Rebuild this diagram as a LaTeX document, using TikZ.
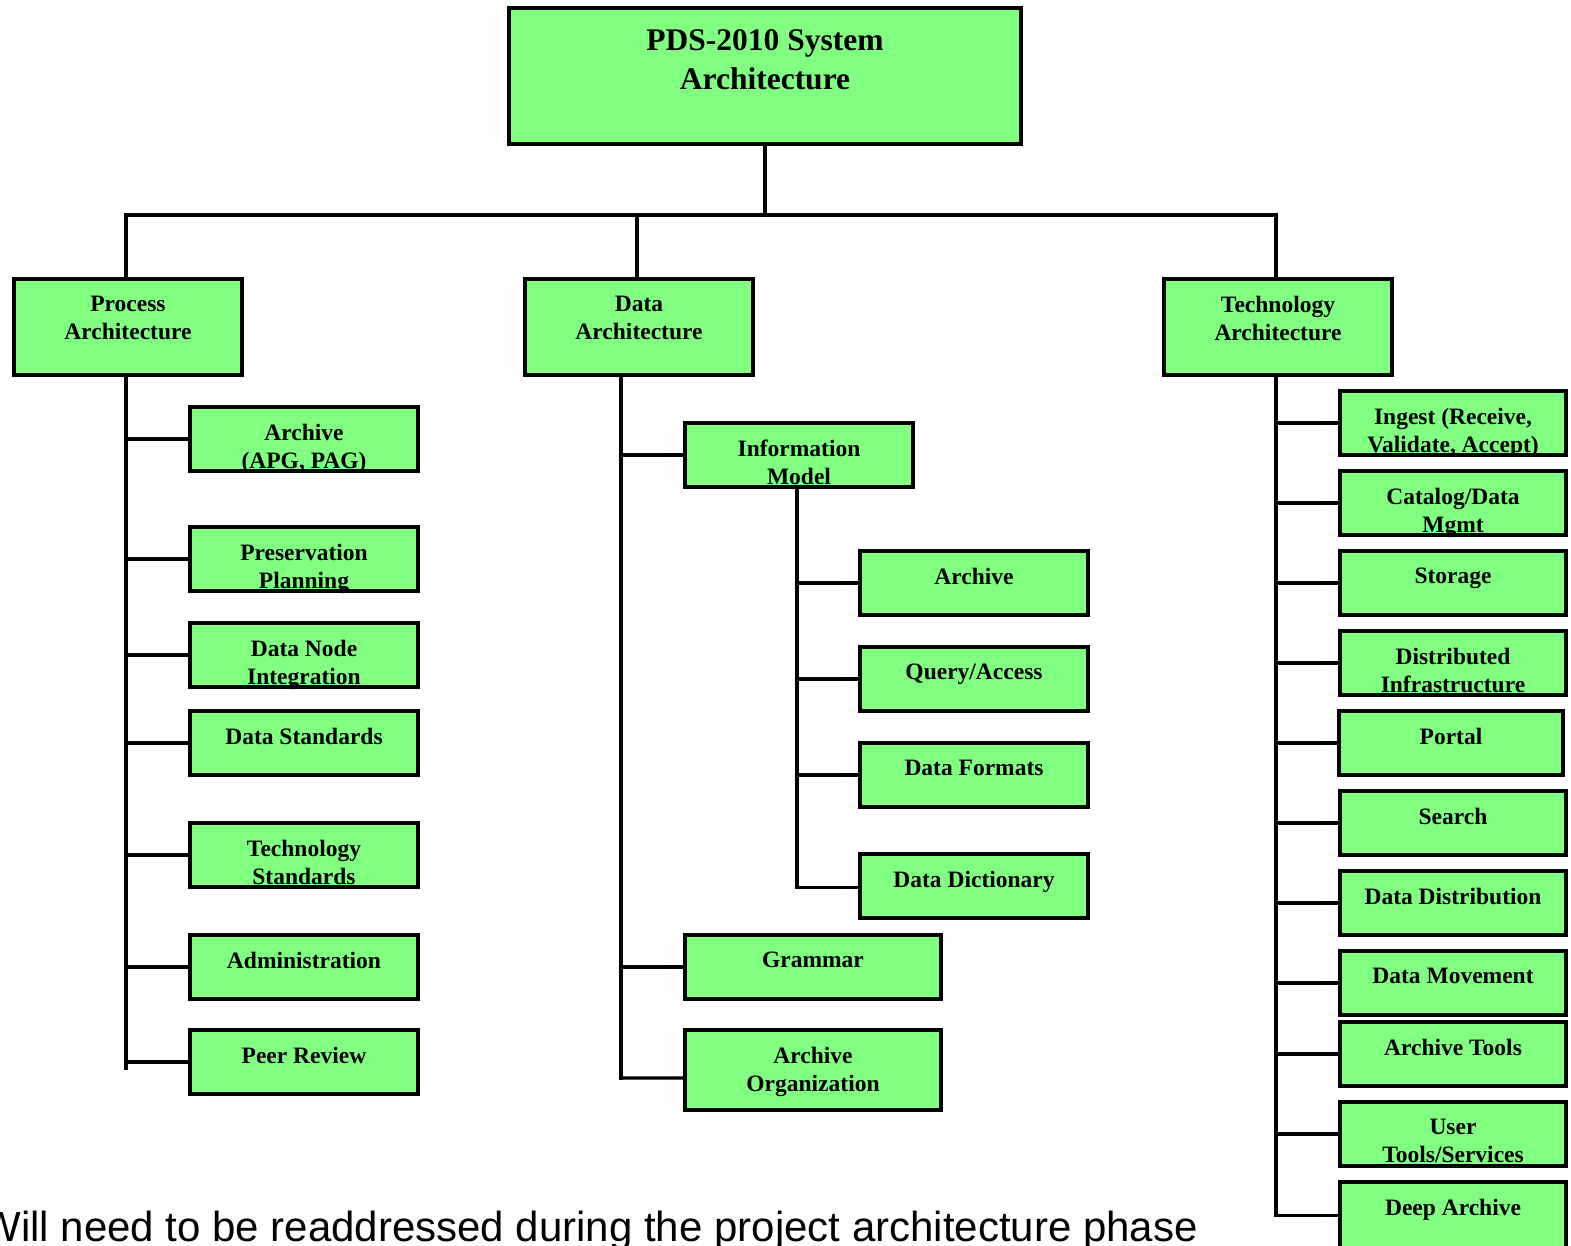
\documentclass[tikz,border=0pt]{standalone}
\usepackage{fontspec}
\setmainfont{Liberation Serif}
\newfontfamily\notesans{Liberation Sans}
\definecolor{boxgreen}{HTML}{80FF80}
\tikzset{
  x=1pt, y=-1pt,
  fillbox/.style={fill=boxgreen, inner sep=0pt, outer sep=0pt},
  ln/.style={line width=3.3pt, line cap=rect},
  conn/.style={line width=3.3pt},
  txtbig/.style={font=\fontsize{31.5}{39}\selectfont\bfseries, align=center, inner sep=0pt},
  txt/.style={font=\fontsize{23.5}{28}\selectfont\bfseries, align=center, inner sep=0pt},
}
% #1 name, #2 cx, #3 top, #4 width, #5 height, #6 text offset, #7 style, #8 text
\newcommand\mkbox[8]{%
  \node[fillbox, minimum width=#4pt, minimum height=#5pt, anchor=north] (#1) at (#2,#3) {};
  \node[#7, anchor=north] (#1-t) at ([yshift=-#6pt]#1.north) {#8};
  \draw[ln] (#1.south west) rectangle (#1.north east);
}
\begin{document}
\begin{tikzpicture}
\useasboundingbox (0,0) rectangle (1571,1246);
% top
\mkbox{top}{765}{8}{512}{136}{21}{txtbig}{PDS-2010 System\\Architecture}
% level 2
\mkbox{proc}{128}{279}{228}{96}{17}{txt}{Process\\Architecture}
\mkbox{data}{639}{279}{228}{96}{17}{txt}{Data\\Architecture}
\mkbox{tech}{1278}{279}{228}{96}{17}{txt}{Technology\\Architecture}
% process children
\mkbox{p1}{304}{407}{228}{64}{17}{txt}{Archive\\(APG, PAG)}
\mkbox{p2}{304}{527}{228}{64}{17}{txt}{Preservation\\Planning}
\mkbox{p3}{304}{623}{228}{64}{17}{txt}{Data Node\\Integration}
\mkbox{p4}{304}{711}{228}{64}{17}{txt}{Data Standards}
\mkbox{p5}{304}{823}{228}{64}{17}{txt}{Technology\\Standards}
\mkbox{p6}{304}{935}{228}{64}{17}{txt}{Administration}
\mkbox{p7}{304}{1030}{228}{64}{17}{txt}{Peer Review}
% data children
\mkbox{d1}{799}{423}{228}{64}{17}{txt}{Information\\Model}
\mkbox{d11}{974}{551}{228}{64}{17}{txt}{Archive}
\mkbox{d12}{974}{647}{228}{64}{17}{txt}{Query/Access}
\mkbox{d13}{974}{743}{228}{64}{17}{txt}{Data Formats}
\mkbox{d14}{974}{854}{228}{64}{17}{txt}{Data Dictionary}
\mkbox{d2}{813}{935}{256}{64}{17}{txt}{Grammar}
\mkbox{d3}{813}{1030}{256}{80}{17}{txt}{Archive\\Organization}
% technology children
\mkbox{t1}{1453}{391}{226}{64}{17}{txt}{Ingest (Receive,\\Validate, Accept)}
\mkbox{t2}{1453}{471}{226}{64}{17}{txt}{Catalog/Data\\Mgmt}
\mkbox{t3}{1453}{551}{226}{64}{17}{txt}{Storage}
\mkbox{t4}{1453}{631}{226}{64}{17}{txt}{Distributed\\Infrastructure}
\mkbox{t5}{1451}{711}{224}{64}{17}{txt}{Portal}
\mkbox{t6}{1453}{791}{226}{64}{17}{txt}{Search}
\mkbox{t7}{1453}{871}{226}{64}{17}{txt}{Data Distribution}
\mkbox{t8}{1453}{951}{226}{64}{17}{txt}{Data Movement}
\mkbox{t9}{1453}{1022}{226}{64}{17}{txt}{Archive Tools}
\mkbox{t10}{1453}{1102}{226}{64}{17}{txt}{User\\Tools/Services}
\mkbox{t11}{1453}{1182}{226}{80}{17}{txt}{Deep Archive}
% bus
\coordinate (busL) at (126,215);
\coordinate (busM) at (637,215);
\coordinate (busR) at (1276,215);
\draw[conn] (top.south) -- (top.south |- busL);
\draw[conn] ([xshift=-1.6pt]busL) -- ([xshift=1.6pt]busR);
\draw[conn] ([yshift=1.6pt]busL) -- (proc.north -| busL);
\draw[conn] ([yshift=1.6pt]busM) -- (data.north -| busM);
\draw[conn] ([yshift=1.6pt]busR) -- (tech.north -| busR);
% process spine
\coordinate (ps) at (126,1070);
\draw[conn] (proc.south -| ps) -- (ps);
\foreach \n in {p1,p2,p3,p4,p5,p6,p7} \draw[conn] (ps |- \n.west) -- (\n.west);
% data spine
\coordinate (ds) at (621,1079.5);
\draw[conn] (data.south -| ds) -- (ds);
\foreach \n in {d1,d2} \draw[conn] (ds |- \n.west) -- (\n.west);
\draw[conn] ([xshift=-1.6pt,yshift=1.6pt]ds) -- ([yshift=-8pt]d3.west);
% info model spine
\coordinate (is) at (797,887.5);
\draw[conn] (d1.south -| is) -- (is);
\foreach \n in {d11,d12,d13} \draw[conn] (is |- \n.west) -- (\n.west);
\draw[conn] ([xshift=-1.6pt]is) -- (d14.west |- is);
% tech spine
\coordinate (ts) at (1276,1215.5);
\draw[conn] (tech.south -| ts) -- (ts);
\foreach \n in {t1,t2,t3,t4,t5,t6,t7,t8,t9,t10} \draw[conn] (ts |- \n.west) -- (\n.west);
\draw[conn] ([xshift=-1.6pt]ts) -- (t11.west |- ts);
% note
\node[anchor=base east, inner sep=0pt, font=\notesans\fontsize{42}{50}\selectfont] (note) at (1198,1241) {Will need to be readdressed during the project architecture phase};
\end{tikzpicture}
\end{document}
